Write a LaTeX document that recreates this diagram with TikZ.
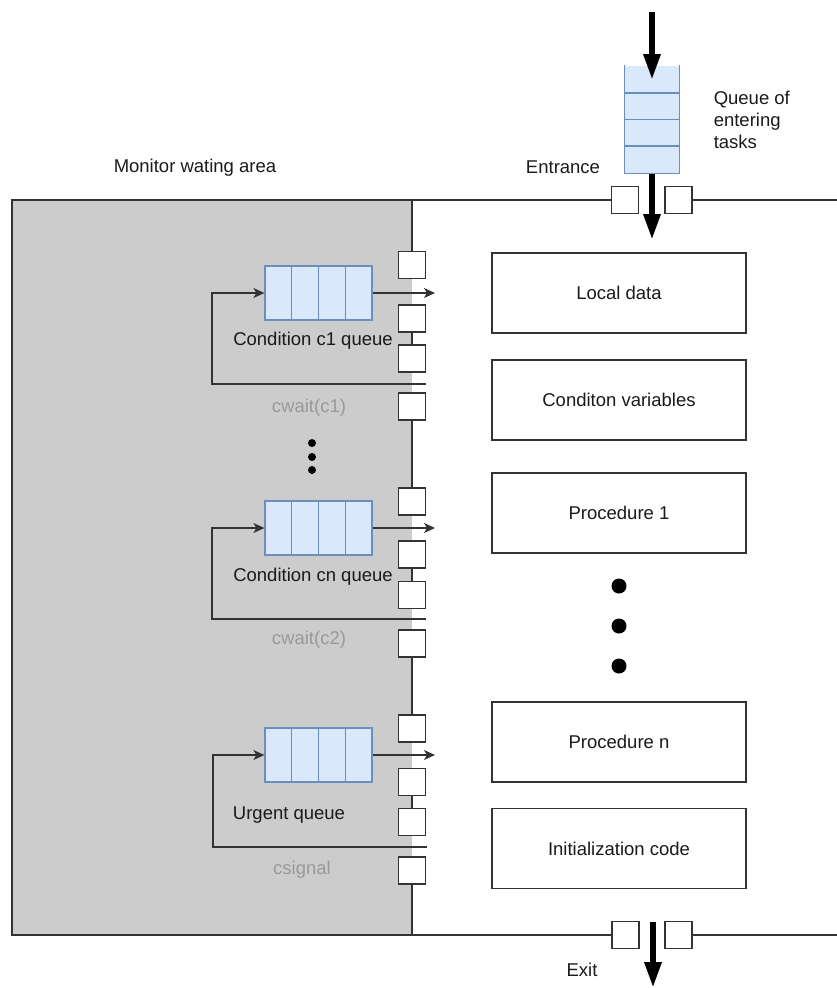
\documentclass[tikz,border=0pt]{standalone}
\usepackage{fontspec}
\setmainfont{Liberation Sans}
\usetikzlibrary{arrows.meta,calc}
\definecolor{waitgray}{HTML}{CCCCCC}
\definecolor{qfill}{HTML}{DAE8FC}
\definecolor{qline}{HTML}{6C8EBF}
\definecolor{hint}{HTML}{999999}
\definecolor{ink}{HTML}{1A1A1A}
\definecolor{outline}{HTML}{333333}

\begin{document}
\begin{tikzpicture}[x=1pt,y=-1pt,line width=1.5pt,
  lbl/.style={font=\fontsize{18.5}{22}\selectfont, text=ink, inner sep=0pt},
  hintlbl/.style={lbl, text=hint},
  part/.style={draw=outline, fill=white, minimum width=254pt, minimum height=80pt, lbl},
  gate/.style={draw=outline, fill=white, minimum size=27pt, inner sep=0pt},
  queue/.style={draw=qline, fill=qfill, minimum width=107pt, minimum height=54pt, inner sep=0pt, line width=1.2pt},
  cell/.style={draw=qline, line width=1.2pt},
  flow/.style={draw=outline, line width=1.5pt, -{Stealth[length=11pt,width=10pt,inset=3pt]}},
  push/.style={line width=6pt, -{Triangle[length=26pt,width=16pt]}},
  blob/.style={circle, fill=black, inner sep=0pt, minimum size=#1},
]
\useasboundingbox (0,0) rectangle (837,988);

% waiting area
\fill[waitgray] (12,200) rectangle (412,935);

% entrance / exit gates on the monitor outline
\node[gate] (ent1) at (625,200) {};
\node[gate] (ent2) at (678.5,200) {};
\node[gate] (ex1) at (625.5,935) {};
\node[gate] (ex2) at (678.5,935) {};
\draw[outline] (ent1.west) -- (12,200) -- (12,935) -- (ex1.west);
\draw[outline] (ent2.east) -- (837,200);
\draw[outline] (ex2.east) -- (837,935);

% gates along the waiting-area border
\foreach \g/\ya/\yb/\yc/\yd in {1/265/318.5/358.5/406.5, 2/501.5/554.5/595/643.5, 3/728.5/782/822/870.5}{
  \node[gate] (g\g a) at (412,\ya) {};
  \node[gate] (g\g b) at (412,\yb) {};
  \node[gate] (g\g c) at (412,\yc) {};
  \node[gate] (g\g d) at (412,\yd) {};
}
\draw[outline] (412,200) -- (g1a.north);
\draw[outline] (g1b.south) -- (g1c.north);
\draw[outline] (g1d.south) -- (g2a.north);
\draw[outline] (g2b.south) -- (g2c.north);
\draw[outline] (g2d.south) -- (g3a.north);
\draw[outline] (g3b.south) -- (g3c.north);
\draw[outline] (g3d.south) -- (412,935);

% condition and urgent queues
\node[queue] (q1) at (318.5,293) {};
\node[queue] (q2) at (318.5,528) {};
\node[queue] (q3) at (318.5,755) {};
\foreach \q in {q1,q2,q3}{
  \foreach \dx in {-26.75,0,26.75}{
    \draw[cell] ($(\q.north)+(\dx,0)$) -- ($(\q.south)+(\dx,0)$);
  }
}

% queue exits into the monitor
\coordinate (o1) at (435,293);
\coordinate (o2) at (435,528);
\coordinate (o3) at (435,755);
\draw[flow] (q1.east) -- (o1);
\draw[flow] (q2.east) -- (o2);
\draw[flow] (q3.east) -- (o3);

% return paths back into the queues
\coordinate (r1) at (426,384);
\coordinate (l1) at (212,384);
\coordinate (r2) at (426,619);
\coordinate (l2) at (212,619);
\coordinate (r3) at (427,847);
\coordinate (l3) at (213,847);
\draw[flow] (r1) -- (l1) |- (q1.west);
\draw[flow] (r2) -- (l2) |- (q2.west);
\draw[flow] (r3) -- (l3) |- (q3.west);

% queue labels
\node[lbl] (t1) at (313,341) {Condition c1 queue};
\node[hintlbl] (w1) at (309,408) {cwait(c1)};
\node[lbl] (t2) at (313,577) {Condition cn queue};
\node[hintlbl] (w2) at (309,640) {cwait(c2)};
\node[lbl] (t3) at (289,815) {Urgent queue};
\node[hintlbl] (w3) at (302,870) {csignal};

% ellipsis between the condition queues
\node[blob=8pt] (d1) at (312,443) {};
\node[blob=8pt] (d2) at (312,457) {};
\node[blob=8pt] (d3) at (312,470) {};

% monitor parts
\node[part] (local) at (619,293) {Local data};
\node[part] (vars) at (619,400) {Conditon variables};
\node[part] (proc1) at (619,513) {Procedure 1};
\node[part] (procn) at (619,742) {Procedure n};
\node[part] (init) at (619,848.5) {Initialization code};
\node[blob=15pt] (e1) at (619,586) {};
\node[blob=15pt] (e2) at (619,626) {};
\node[blob=15pt] (e3) at (619,666) {};

% queue of entering tasks (open at the top)
\node[fill=qfill, minimum width=54pt, minimum height=107pt, inner sep=0pt] (entq) at (652,119.5) {};
\draw[cell] (entq.north west) -- (entq.south west) -- (entq.south east) -- (entq.north east);
\foreach \dy in {-26.5,0,26.5}{
  \draw[cell] ($(entq.west)+(0,\dy)$) -- ($(entq.east)+(0,\dy)$);
}

% task flow through the entrance and exit
\coordinate (in0) at (652,12);
\coordinate (in1) at (652,80);
\coordinate (in2) at (652,240);
\coordinate (out0) at (653,922);
\coordinate (out1) at (653,988);
\draw[push] (in0) -- (in1);
\draw[push] (entq.south) -- (in2);
\draw[push] (out0) -- (out1);

% area labels
\node[lbl, align=left, anchor=west] (qlbl) at (713,120) {Queue of\\entering\\tasks};
\node[lbl] (entlbl) at (563,167) {Entrance};
\node[lbl] (exlbl) at (582,970) {Exit};
\node[lbl] (mon) at (195,168) {Monitor wating area};
\end{tikzpicture}
\end{document}
